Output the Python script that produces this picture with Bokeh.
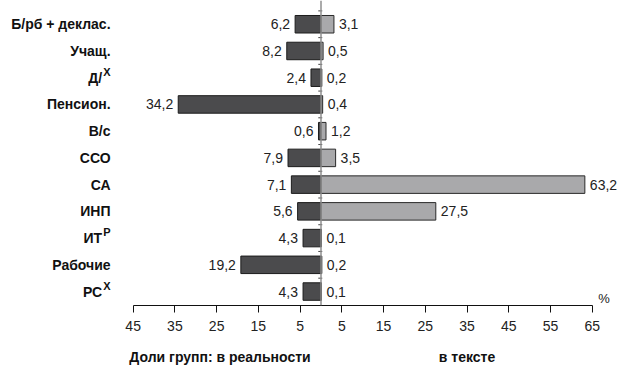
from bokeh.plotting import figure
from bokeh.models import (ColumnDataSource, Range1d, FixedTicker, CustomJSTickFormatter,
                          Span, LinearAxis)
from bokeh.core.properties import value
from bokeh.embed import file_html
from bokeh.resources import INLINE

# ---- data ----
categories = ["Б/рб + деклас.", "Учащ.", "Д/", "Пенсион.", "В/с", "ССО", "СА", "ИНП", "ИТ", "Рабочие", "РС"]
superscripts = ["", "", "Х", "", "", "", "", "", "Р", "", "Х"]
reality = [6.2, 8.2, 2.4, 34.2, 0.6, 7.9, 7.1, 5.6, 4.3, 19.2, 4.3]
in_text = [3.1, 0.5, 0.2, 0.4, 1.2, 3.5, 63.2, 27.5, 0.1, 0.2, 0.1]
x_ticks = [-45, -35, -25, -15, -5, 5, 15, 25, 35, 45, 55, 65]
title_left = "Доли групп: в реальности"
title_right = "в тексте"
unit_label = "%"

FONT = "Liberation Sans"


def fmt(v):
    return f"{v:.1f}".replace(".", ",")


n = len(categories)
pos = list(range(n))
src = ColumnDataSource(dict(
    y=pos,
    y_sup=[i - 0.22 for i in pos],
    cat=categories,
    sup=superscripts,
    cat_off=[-31.0 if s else -22.6 for s in superscripts],
    neg=[-v for v in reality],
    real=reality,
    real_lbl=[fmt(v) for v in reality],
    txt=in_text,
    txt_lbl=[fmt(v) for v in in_text],
))

p = figure(width=619, height=372, output_backend="svg", toolbar_location=None,
           x_range=Range1d(-76.77, 71.50), y_range=Range1d(10.522, -0.8885),
           y_axis_location=None, min_border_left=0, min_border_right=0,
           min_border_top=0, min_border_bottom=67)
p.outline_line_color = None
p.xgrid.grid_line_color = None
p.ygrid.grid_line_color = None
p.background_fill_color = "white"

# bars
p.hbar(y="y", left="neg", right=0, height=0.655, source=src,
       fill_color="#4b4b4d", line_color="#1c1c1c", line_width=1)
p.hbar(y="y", left=0, right="txt", height=0.655, source=src,
       fill_color="#a9a9ab", line_color="#2a2a2a", line_width=1)

# category boundary ticks on the zero line
bounds_y = [i - 0.5 for i in pos]
p.segment(x0=[-0.65] * n, x1=[0.3] * n, y0=bounds_y, y1=bounds_y,
          line_color="#444444", line_width=1)

# zero line
p.add_layout(Span(location=0, dimension="height", line_color="#8f8f8f", line_width=1.5))

# category labels
p.text(x=x_ticks[0], y="y", text="cat", x_offset="cat_off", source=src,
       text_align="right", text_baseline="middle",
       text_font=value(FONT), text_font_style="bold", text_font_size="14px",
       text_color="#111111")
p.text(x=x_ticks[0], y="y_sup", text="sup", x_offset=-22.6, source=src,
       text_align="right", text_baseline="middle",
       text_font=value(FONT), text_font_style="bold", text_font_size="11px",
       text_color="#111111")

# value labels
p.text(x="neg", y="y", text="real_lbl", x_offset=-5, source=src,
       text_align="right", text_baseline="middle",
       text_font=value(FONT), text_font_size="14px", text_color="#222222")
p.text(x="txt", y="y", text="txt_lbl", x_offset=5, source=src,
       text_align="left", text_baseline="middle",
       text_font=value(FONT), text_font_size="14px", text_color="#222222")

# percent sign at the end of the axis
p.text(x=[x_ticks[-1]], y=[10.522], text=[unit_label], x_offset=6,
       text_align="left", text_baseline="bottom",
       text_font=value(FONT), text_font_size="13px", text_color="#222222")

# x axis
ax = p.xaxis[0]
ax.ticker = FixedTicker(ticks=x_ticks)
ax.formatter = CustomJSTickFormatter(code="return Math.abs(tick).toString();")
ax.bounds = (x_ticks[0], x_ticks[-1])
ax.major_tick_out = 7
ax.major_tick_in = 0
ax.minor_tick_line_color = None
ax.axis_line_color = "#111111"
ax.major_tick_line_color = "#111111"
ax.major_label_standoff = 8
ax.major_label_text_font = FONT
ax.major_label_text_font_size = "14px"
ax.major_label_text_color = "#222222"

# bottom titles as a second, line-less axis
ax2 = LinearAxis(ticker=FixedTicker(ticks=[-24.19, 34.97]),
                 formatter=CustomJSTickFormatter(args=dict(l=title_left, r=title_right),
                                                 code="return tick < 0 ? l : r;"))
ax2.axis_line_color = None
ax2.major_tick_line_color = None
ax2.minor_tick_line_color = None
ax2.major_tick_out = 0
ax2.major_tick_in = 0
ax2.major_label_standoff = 15
ax2.major_label_text_font = FONT
ax2.major_label_text_font_style = "bold"
ax2.major_label_text_font_size = "14px"
ax2.major_label_text_color = "#111111"
p.add_layout(ax2, "below")

open("out.html", "w").write(file_html(p, INLINE))
